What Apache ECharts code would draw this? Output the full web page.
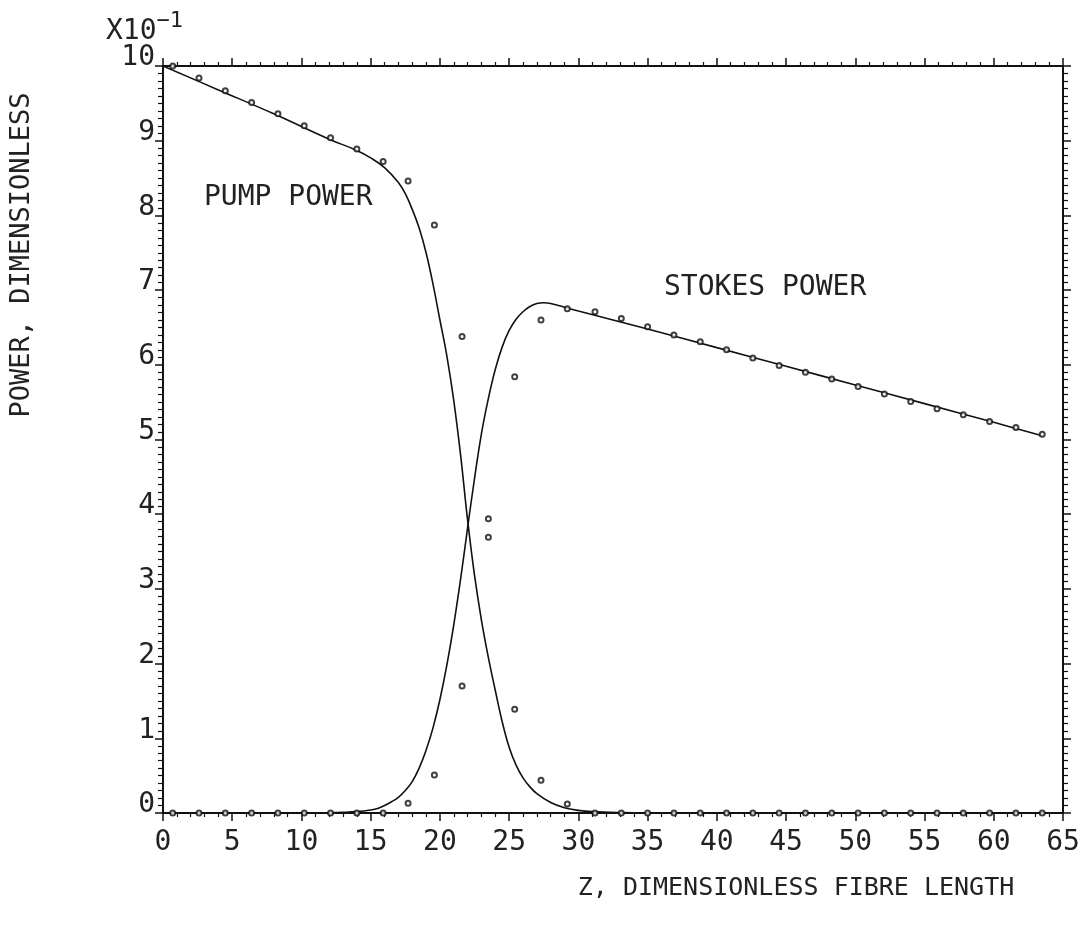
<!DOCTYPE html>
<html>
<head>
<meta charset="utf-8">
<script src="https://cdn.jsdelivr.net/npm/echarts@6/dist/echarts.min.js"></script>
<style>
  html, body { margin: 0; padding: 0; background: #fff; }
  #chart { width: 1089px; height: 933px; }
</style>
</head>
<body>
<div id="chart"></div>
<script>
// Axis ranges and tick labels
const xTicks = [0, 5, 10, 15, 20, 25, 30, 35, 40, 45, 50, 55, 60, 65];
const yTicks = [0, 1, 2, 3, 4, 5, 6, 7, 8, 9, 10];

// Computed curves (power x10)
const pumpCurveZ = [0, 4, 8, 12, 14, 15, 16, 17, 17.5, 18, 18.5, 19, 19.5, 20, 20.5, 21, 21.5, 22, 22.5, 23, 23.5, 24, 24.5, 25, 25.5, 26, 26.5, 27, 28, 29, 30, 31, 33, 35, 40, 50, 63.5];
const pumpCurveP = [10.0, 9.68, 9.36, 9.02, 8.87, 8.77, 8.64, 8.44, 8.29, 8.08, 7.83, 7.50, 7.08, 6.60, 6.12, 5.52, 4.78, 3.92, 3.18, 2.58, 2.08, 1.64, 1.22, 0.88, 0.64, 0.47, 0.35, 0.26, 0.14, 0.07, 0.035, 0.018, 0.005, 0, 0, 0, 0];

const stokesCurveZ = [0, 5, 10, 12, 13, 14, 15, 15.5, 16, 16.5, 17, 17.5, 18, 18.5, 19, 19.5, 20, 20.5, 21, 21.5, 22, 22.5, 23, 23.5, 24, 24.5, 25, 25.5, 26, 26.5, 27, 27.5, 28, 29, 30, 35, 40, 45, 50, 55, 60, 63.5];
const stokesCurveP = [0, 0, 0, 0.003, 0.008, 0.018, 0.04, 0.06, 0.10, 0.15, 0.21, 0.30, 0.42, 0.60, 0.84, 1.14, 1.52, 1.98, 2.52, 3.14, 3.82, 4.48, 5.08, 5.55, 5.94, 6.24, 6.46, 6.61, 6.71, 6.78, 6.82, 6.83, 6.82, 6.77, 6.72, 6.48, 6.23, 5.98, 5.73, 5.48, 5.23, 5.05];

// Measured points
const pointZ = [0.7, 2.6, 4.5, 6.4, 8.3, 10.2, 12.1, 14.0, 15.9, 17.7, 19.6, 21.6, 23.5, 25.4, 27.3, 29.2, 31.2, 33.1, 35.0, 36.9, 38.8, 40.7, 42.6, 44.5, 46.4, 48.3, 50.2, 52.1, 54.0, 55.9, 57.8, 59.7, 61.6, 63.5];
const pumpPointP = [10.0, 9.84, 9.67, 9.51, 9.36, 9.20, 9.04, 8.89, 8.72, 8.46, 7.87, 6.38, 3.69, 1.39, 0.44, 0.12, 0, 0, 0, 0, 0, 0, 0, 0, 0, 0, 0, 0, 0, 0, 0, 0, 0, 0];
const stokesPointP = [0, 0, 0, 0, 0, 0, 0, 0, 0, 0.13, 0.51, 1.70, 3.94, 5.84, 6.60, 6.75, 6.71, 6.62, 6.51, 6.40, 6.31, 6.20, 6.09, 5.99, 5.90, 5.81, 5.71, 5.61, 5.51, 5.41, 5.33, 5.24, 5.16, 5.07];

const pairs = (xs, ys) => xs.map((x, i) => [x, ys[i]]);

const FONT = '"DejaVu Sans Mono", "Liberation Mono", monospace';
const INK = '#111';
const TEXT = '#222';

function xAxisDef(position, showLabels) {
  return {
    type: 'value', position: position,
    min: xTicks[0], max: xTicks[xTicks.length - 1], interval: 5,
    axisLine: { show: true, onZero: false, lineStyle: { color: INK, width: 2 } },
    axisTick: { show: true, inside: false, length: 8, lineStyle: { color: INK, width: 1.5 } },
    minorTick: { show: true, splitNumber: 5, length: 4, lineStyle: { color: INK, width: 1.2 } },
    splitLine: { show: false },
    axisLabel: { show: showLabels, margin: 16, color: TEXT, fontFamily: FONT, fontSize: 28,
      formatter: v => String(v) }
  };
}
function yAxisDef(position, showLabels) {
  return {
    type: 'value', position: position,
    min: yTicks[0], max: yTicks[yTicks.length - 1], interval: 1,
    axisLine: { show: true, onZero: false, lineStyle: { color: INK, width: 2 } },
    axisTick: { show: true, inside: false, length: 8, lineStyle: { color: INK, width: 1.5 } },
    minorTick: { show: true, splitNumber: 10, length: 5, lineStyle: { color: INK, width: 1.2 } },
    splitLine: { show: false },
    axisLabel: { show: showLabels, margin: 8, color: TEXT, fontFamily: FONT, fontSize: 28,
      verticalAlign: 'bottom', lineHeight: 28, padding: [0, 0, -6, 0],
      formatter: v => String(v) }
  };
}

const chart = echarts.init(document.getElementById('chart'), null, { renderer: 'canvas' });
chart.setOption({
  backgroundColor: '#fff',
  animation: false,
  grid: { left: 163, right: 26, top: 66, bottom: 120, containLabel: false },
  xAxis: [xAxisDef('bottom', true), xAxisDef('top', false)],
  yAxis: [yAxisDef('left', true), yAxisDef('right', false)],
  series: [
    {
      name: 'PUMP POWER', type: 'line', data: pairs(pumpCurveZ, pumpCurveP),
      showSymbol: false, smooth: 0.4,
      lineStyle: { color: INK, width: 1.6 }, z: 3
    },
    {
      name: 'STOKES POWER', type: 'line', data: pairs(stokesCurveZ, stokesCurveP),
      showSymbol: false, smooth: 0.4,
      lineStyle: { color: INK, width: 1.6 }, z: 3
    },
    {
      name: 'pump points', type: 'scatter', data: pairs(pointZ, pumpPointP),
      symbol: 'emptyCircle', symbolSize: 5,
      itemStyle: { color: INK, borderColor: INK, borderWidth: 1.3 }, z: 4
    },
    {
      name: 'stokes points', type: 'scatter', data: pairs(pointZ, stokesPointP),
      symbol: 'emptyCircle', symbolSize: 5,
      itemStyle: { color: INK, borderColor: INK, borderWidth: 1.3 }, z: 4
    }
  ],
  graphic: [
    {
      type: 'text', left: 106, top: 10,
      style: {
        text: '{b|X10}{s|−1}',
        rich: {
          b: { fontFamily: FONT, fontSize: 28, fill: TEXT, verticalAlign: 'bottom', padding: [8, 0, 0, 0] },
          s: { fontFamily: FONT, fontSize: 22, fill: TEXT, verticalAlign: 'top', padding: [0, 0, 10, 0] }
        }
      }
    },
    {
      type: 'text', x: 22, y: 255, rotation: Math.PI / 2,
      style: { text: 'POWER, DIMENSIONLESS', fontFamily: FONT, fontSize: 27, fill: TEXT,
        align: 'center', verticalAlign: 'middle' }
    },
    {
      type: 'text', x: 796, y: 888,
      style: { text: 'Z, DIMENSIONLESS FIBRE LENGTH', fontFamily: FONT, fontSize: 25, fill: TEXT,
        align: 'center', verticalAlign: 'middle' }
    },
    {
      type: 'text', x: 204, y: 198,
      style: { text: 'PUMP POWER', fontFamily: FONT, fontSize: 28, fill: TEXT,
        align: 'left', verticalAlign: 'middle' }
    },
    {
      type: 'text', x: 664, y: 288,
      style: { text: 'STOKES POWER', fontFamily: FONT, fontSize: 28, fill: TEXT,
        align: 'left', verticalAlign: 'middle' }
    }
  ]
});
</script>
</body>
</html>
